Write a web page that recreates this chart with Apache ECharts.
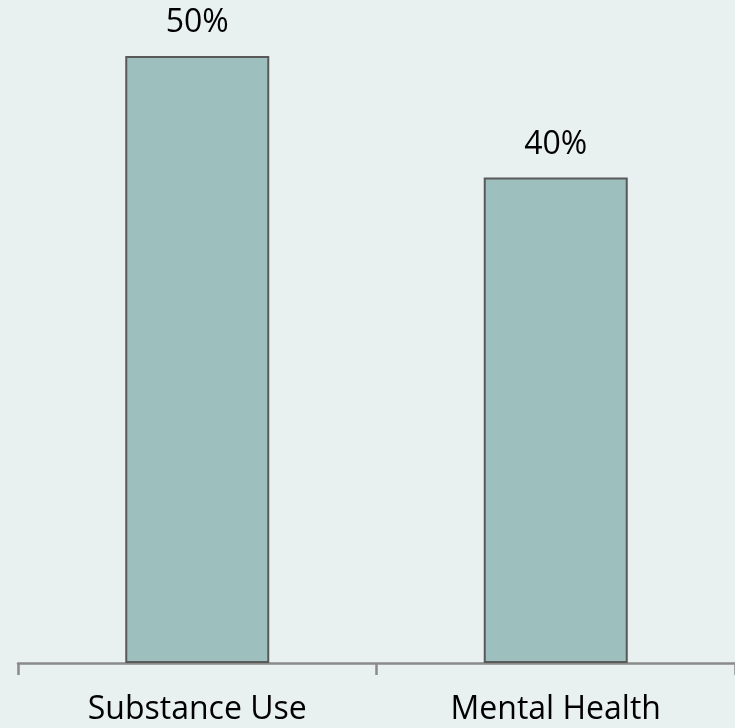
<!DOCTYPE html>
<html>
<head>
<meta charset="utf-8">
<style>
html,body{margin:0;padding:0;background:#E9F1F0;}
#chart{width:735px;height:728px;}
</style>
<script src="https://cdn.jsdelivr.net/npm/echarts@6/dist/echarts.min.js"></script>
</head>
<body>
<div id="chart"></div>
<script>
const categories = ["Substance Use", "Mental Health"];
const values = [50, 40];
const valueLabels = ["50%", "40%"];

const chart = echarts.init(document.getElementById('chart'));
chart.setOption({
  backgroundColor: '#E9F1F0',
  animation: false,
  grid: { left: 18, top: 56, width: 720, bottom: 65, containLabel: false },
  xAxis: {
    type: 'category',
    data: categories,
    axisLine: { show: true, lineStyle: { color: '#8A8A8A', width: 2.5 } },
    axisTick: { show: true, length: 12, lineStyle: { color: '#8A8A8A', width: 2.5 } },
    axisLabel: { color: '#000', fontSize: 32, fontFamily: 'Open Sans', margin: 31 }
  },
  yAxis: {
    type: 'value', min: 0, max: 50,
    show: false,
    splitLine: { show: false }
  },
  series: [{
    type: 'bar',
    data: values,
    barWidth: 144,
    itemStyle: { color: '#9DBFBE', borderColor: '#595959', borderWidth: 2 },
    label: {
      show: true, position: 'top', distance: 17,
      formatter: p => valueLabels[p.dataIndex],
      color: '#000', fontSize: 32, fontFamily: 'Open Sans'
    }
  }]
});
</script>
</body>
</html>
